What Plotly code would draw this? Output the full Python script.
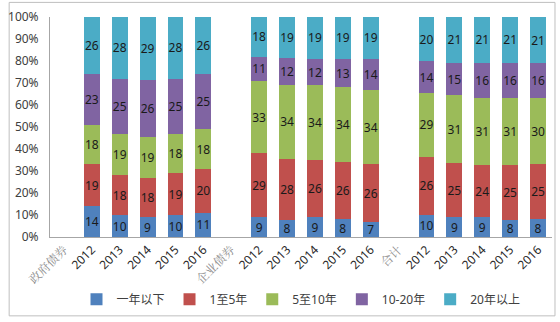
import plotly.graph_objects as go

group_labels = ["政府债券", "企业债券", "合计"]
years = ["2012", "2013", "2014", "2015", "2016"]
series_names = ["一年以下", "1至5年", "5至10年", "10-20年", "20年以上"]
colors = ["#4F81BD", "#C0504D", "#9BBB59", "#8064A2", "#4BACC6"]

# values per group, per series, per year
gov = [
    [14, 10, 9, 10, 11],
    [19, 18, 18, 19, 20],
    [18, 19, 19, 18, 18],
    [23, 25, 26, 25, 25],
    [26, 28, 29, 28, 26],
]
corp = [
    [9, 8, 9, 8, 7],
    [29, 28, 26, 26, 26],
    [33, 34, 34, 34, 34],
    [11, 12, 12, 13, 14],
    [18, 19, 19, 19, 19],
]
total = [
    [10, 9, 9, 8, 8],
    [26, 25, 24, 25, 25],
    [29, 31, 31, 31, 30],
    [14, 15, 16, 16, 16],
    [20, 21, 21, 21, 21],
]
groups = [gov, corp, total]

# build x positions: group label slot, then 5 years
xs, tickvals, ticktext = [], [], []
pos = 0
for g, name in enumerate(group_labels):
    tickvals.append(pos)
    ticktext.append(f"<span style='color:#8C8C8C;font-family:\"Noto Serif CJK SC\",\"Noto Sans CJK SC\"'>{name}</span>")
    pos += 1
    for y in years:
        tickvals.append(pos)
        ticktext.append(y)
        xs.append(pos)
        pos += 1

fig = go.Figure()
for s, sname in enumerate(series_names):
    vals = []
    for g in groups:
        vals.extend(g[s])
    fig.add_trace(go.Bar(
        x=xs, y=vals, name=sname,
        marker=dict(color=colors[s], line=dict(width=0)),
        text=[str(v) for v in vals], textposition="inside",
        insidetextanchor="middle", textangle=0, constraintext="none",
        textfont=dict(size=12, color="#1A1A1A", family="Noto Sans, Noto Sans CJK SC"),
        hoverinfo="skip",
    ))

W, H = 560, 322
ml, mr, mt, mb = 48, 8, 12, 84
pw, ph = W - ml - mr, H - mt - mb

def px_to_paper_x(px):
    return (px - ml) / pw

def px_to_paper_y(py):
    return (H - mb - py) / ph

fig.update_layout(
    width=W, height=H,
    margin=dict(l=ml, r=mr, t=mt, b=mb),
    barmode="stack", barnorm="percent", bargap=0.43,
    plot_bgcolor="white", paper_bgcolor="white",
    font=dict(family="Noto Sans, Noto Sans CJK SC", size=12, color="#404040"),
    showlegend=True,
    legend=dict(orientation="h", x=0.5, xanchor="center", y=px_to_paper_y(302), yanchor="middle",
                traceorder="normal", font=dict(size=12, color="#404040"),
                itemwidth=30, tracegroupgap=0),
    shapes=[dict(type="rect", xref="paper", yref="paper",
                 x0=px_to_paper_x(7), x1=px_to_paper_x(555),
                 y0=px_to_paper_y(319), y1=px_to_paper_y(-3),
                 line=dict(color="#BFBFBF", width=1), fillcolor="rgba(0,0,0,0)", layer="below")],
)
fig.update_xaxes(
    range=[-0.5, pos - 0.5], tickmode="array", tickvals=tickvals, ticktext=ticktext,
    tickangle=-45, showline=True, linecolor="#A6A6A6", linewidth=1, ticks="",
    showgrid=False, zeroline=False, tickfont=dict(size=12, color="#262626"),
)
fig.update_yaxes(
    range=[0, 100], dtick=10, ticksuffix="%", showline=True, linecolor="#A6A6A6",
    linewidth=1, showgrid=False, zeroline=False, ticks="", ticklabelstandoff=8,
    tickfont=dict(size=12, color="#404040"),
)

fig.write_html("out.html")
